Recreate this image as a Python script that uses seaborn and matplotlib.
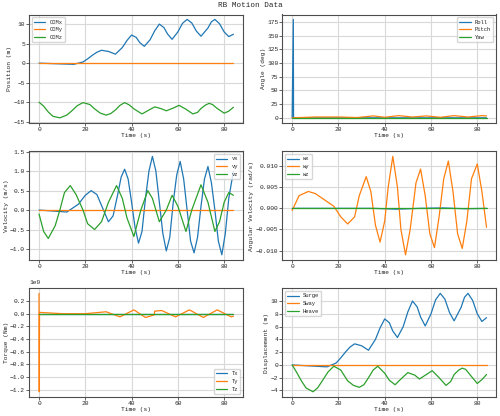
import numpy as np
import pandas as pd
import seaborn as sns
import matplotlib.pyplot as plt
from matplotlib.ticker import MultipleLocator

# Position (m)
pos_t = [0, 10, 15, 19, 21, 23, 25, 27, 30, 33, 36, 38, 40, 42, 43.5, 45.5, 48, 50, 52, 54, 55.5, 57.5, 60, 62, 64, 66, 68, 70, 73, 74.5, 76, 78, 80, 82, 84]
con_x = [0, -0.2, -0.3, 0.3, 1.1, 2, 2.8, 3.3, 3, 2.3, 4, 5.8, 7.2, 6.6, 5.3, 4.3, 6, 8.3, 10, 9.1, 7.5, 6.1, 8, 10.2, 11.2, 10.3, 8.2, 6.9, 9, 10.6, 11.2, 10.1, 8, 6.8, 7.4]
conz_t = [0, 2, 4, 6, 9, 12, 14, 16.5, 19, 22, 24, 26.5, 29, 31, 33, 35, 37, 39, 41, 44.5, 47.5, 50, 53, 55, 58, 60.5, 63.5, 66.5, 68.5, 70, 72, 73.5, 75, 77, 80, 82, 84]
con_z = [-10, -11, -12.5, -13.6, -14, -13.3, -12.3, -10.9, -10.1, -10.6, -11.7, -12.8, -13.3, -12.9, -12, -10.8, -10.1, -10.7, -11.7, -13, -12, -11.2, -11.7, -12.2, -11.5, -10.8, -11.8, -13, -12.6, -11.6, -10.7, -10.3, -10.6, -11.6, -12.8, -12.3, -11.3]

# Angle (deg)
roll_t = [0, 0.5, 0.6, 84]
roll = [0, 180, 0, 0]
pitch_t = [0, 10, 20, 28, 35, 40, 46, 52, 58, 64, 70, 76, 82, 84]
pitch = [0, 1.5, 1.5, 0.5, 3.5, 1, 4, 1.5, 3.5, 1, 4, 1.5, 4, 3.5]

# Velocity (m/s)
vx_t = [0, 5, 12, 17, 20, 22.5, 25, 27.5, 30, 32, 34, 35.5, 37, 38.5, 40, 41.5, 43, 44.5, 46, 47.5, 49, 50.5, 52, 53.5, 55, 56.5, 58, 59.5, 61, 62.5, 64, 65.5, 67, 68.5, 70, 71.5, 73, 74.5, 76, 77.5, 79, 80.5, 82, 84]
vx = [0, -0.02, -0.05, 0.15, 0.38, 0.5, 0.4, 0.05, -0.3, -0.15, 0.4, 0.85, 1.05, 0.8, 0.2, -0.45, -0.85, -0.55, 0.3, 1.0, 1.38, 1.0, 0.2, -0.6, -1.05, -0.7, 0.2, 0.9, 1.25, 0.8, 0, -0.8, -1.1, -0.7, 0.1, 0.8, 1.12, 0.7, 0, -0.8, -1.15, -0.6, 0.3, 1.0]
vz_t = [0, 2, 4, 7, 9, 11, 13.5, 16, 19, 21, 24, 27, 30, 33.5, 36, 38, 41, 44, 47, 49, 52, 55, 57.5, 60, 63.5, 66, 70, 73, 76, 78, 80, 82, 84]
vz = [-0.1, -0.55, -0.73, -0.4, 0, 0.45, 0.63, 0.4, 0, -0.35, -0.5, -0.3, 0.2, 0.63, 0.3, -0.2, -0.68, 0, 0.5, 0.3, -0.3, 0, 0.38, 0.1, -0.55, 0, 0.65, 0.2, -0.55, -0.3, 0.2, 0.45, 0.38]

# Angular velocity (rad/s)
wy_t = [0, 3, 7, 10, 14, 18, 21, 24, 27, 29, 32, 34, 36, 38, 40, 41.5, 43.5, 45.5, 47, 49, 51, 53.5, 55.5, 57.5, 59.5, 61.5, 63.5, 65.5, 67.5, 69.5, 71.5, 73.5, 75.5, 77.5, 80, 82, 84]
wy = [-0.0005, 0.003, 0.004, 0.0035, 0.002, 0.0005, -0.002, -0.0037, -0.002, 0.003, 0.0075, 0.004, -0.004, -0.008, -0.003, 0.005, 0.0123, 0.005, -0.005, -0.011, -0.005, 0.006, 0.0093, 0.003, -0.006, -0.0093, -0.002, 0.007, 0.0112, 0.004, -0.006, -0.0095, -0.003, 0.007, 0.0105, 0.004, -0.0045]
wx_t = [0, 35, 45, 55, 65, 75, 84]
wx = [0, 0, -0.0002, 0, 0.0001, -0.0001, 0]

# Torque (Nm)
ty_t = [0, 0.1, 0.2, 0.4, 10, 20, 29, 35, 41, 46, 49.8, 50, 53, 59, 65, 71, 77, 83, 84]
ty = [0.32e9, -1.23e9, 0.02e9, 0.02e9, 0, 0, 0.03e9, -0.05e9, 0.06e9, -0.06e9, -0.02e9, 0.04e9, 0.05e9, -0.05e9, 0.06e9, -0.06e9, 0.06e9, -0.05e9, -0.04e9]

# Displacement (m)
heave_t = [0, 2, 4, 6, 9, 11, 13, 15.5, 18, 21, 24, 26.5, 29, 31, 33, 35, 37, 40, 42, 44.5, 47, 50, 53, 55, 58, 60.5, 63, 66.5, 68.5, 70, 72, 73.5, 75, 77, 80, 82, 84]
heave = [0, -1.2, -2.5, -3.6, -4.2, -3.6, -2.5, -1.1, -0.2, -0.8, -2.5, -3.2, -3.5, -3.1, -2, -0.8, -0.2, -1.3, -2.4, -3.1, -2.2, -1.2, -1.6, -2.2, -1.5, -0.9, -1.8, -3.2, -2.6, -1.5, -0.8, -0.5, -0.7, -1.6, -2.9, -2.3, -1.5]

END = [0, 84]
ZERO = [0, 0]

sns.set_style("whitegrid", {"axes.edgecolor": "0.3", "grid.color": "0.85",
                            "xtick.bottom": True, "ytick.left": True})
plt.rcParams['font.family'] = ['Liberation Mono', 'DejaVu Sans']
plt.rcParams['font.size'] = 4.5

fig, axes = plt.subplots(3, 2, figsize=(5, 4.16), dpi=100)
c = sns.color_palette()

def draw(ax, series, ylabel, loc, ystep):
    for (t, v, name), col in zip(series, c):
        sns.lineplot(x=t, y=v, ax=ax, color=col, label=name, linewidth=0.9)
    ax.set_xlabel("Time (s)", labelpad=1)
    ax.set_ylabel(ylabel, labelpad=1)
    ax.xaxis.set_major_locator(MultipleLocator(20))
    ax.yaxis.set_major_locator(MultipleLocator(ystep))
    ax.tick_params(length=2, pad=1, width=0.5)
    ax.legend(loc=loc, fontsize=4, frameon=True)

draw(axes[0, 0], [(pos_t, con_x, "COMx"), (END, ZERO, "COMy"), (conz_t, con_z, "COMz")], "Position (m)", "upper left", 5)
draw(axes[0, 1], [(roll_t, roll, "Roll"), (pitch_t, pitch, "Pitch"), (END, ZERO, "Yaw")], "Angle (deg)", "upper right", 25)
draw(axes[1, 0], [(vx_t, vx, "vx"), (END, ZERO, "vy"), (vz_t, vz, "vz")], "Velocity (m/s)", "upper right", 0.5)
draw(axes[1, 1], [(wx_t, wx, "wx"), (wy_t, wy, "wy"), (END, ZERO, "wz")], "Angular Velocity (rad/s)", "upper left", 0.005)
draw(axes[2, 0], [(END, ZERO, "Tx"), (ty_t, ty, "Ty"), (END, ZERO, "Tz")], "Torque (Nm)", "lower right", 0.2e9)
draw(axes[2, 1], [(pos_t, con_x, "Surge"), (END, ZERO, "Sway"), (heave_t, heave, "Heave")], "Displacement (m)", "upper left", 2)

fig.suptitle("RB Motion Data", fontsize=5.5, y=0.995)
fig.tight_layout(pad=0.6, h_pad=0.8, w_pad=1.0)
fig.savefig("out.png", dpi=100)
